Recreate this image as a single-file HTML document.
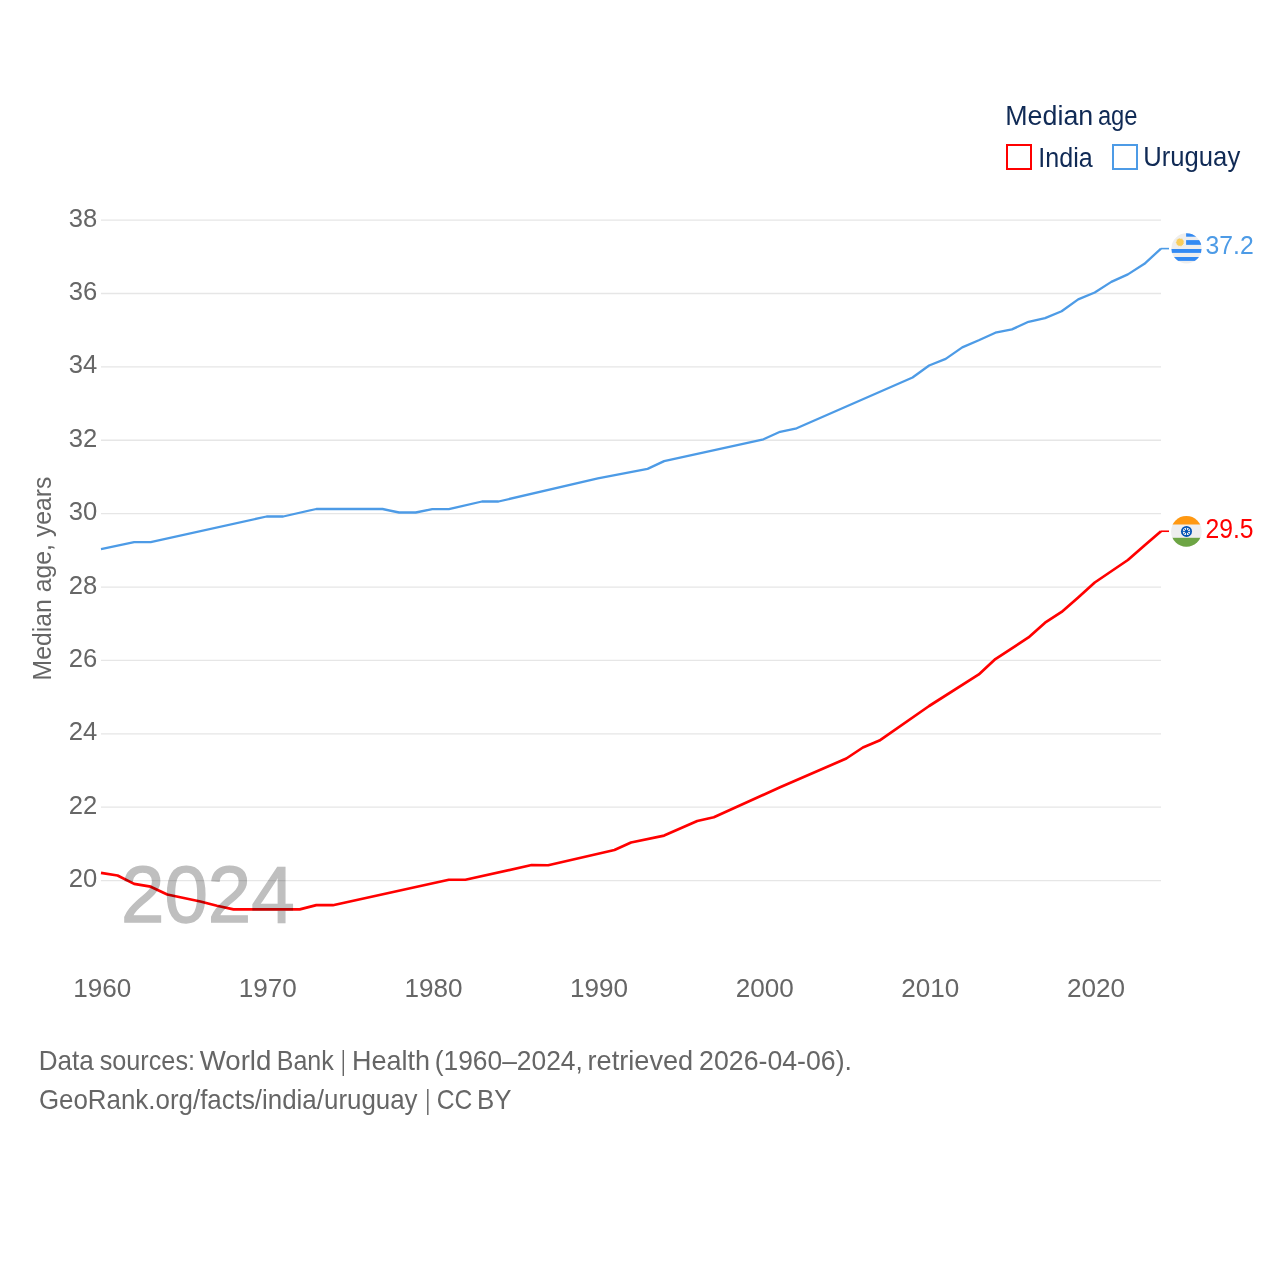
<!DOCTYPE html><html><head><meta charset="utf-8"><style>html,body{margin:0;padding:0;background:#fff;width:1280px;height:1280px;overflow:hidden}svg{display:block;will-change:transform;font-family:"Liberation Sans",sans-serif}</style></head><body>
<svg width="1280" height="1280" viewBox="0 0 1280 1280">
<rect width="1280" height="1280" fill="#fff"/>
<line x1="101.0" y1="220.10" x2="1161.0" y2="220.10" stroke="#e6e6e6" stroke-width="1.3"/>
<line x1="101.0" y1="293.49" x2="1161.0" y2="293.49" stroke="#e6e6e6" stroke-width="1.3"/>
<line x1="101.0" y1="366.88" x2="1161.0" y2="366.88" stroke="#e6e6e6" stroke-width="1.3"/>
<line x1="101.0" y1="440.27" x2="1161.0" y2="440.27" stroke="#e6e6e6" stroke-width="1.3"/>
<line x1="101.0" y1="513.66" x2="1161.0" y2="513.66" stroke="#e6e6e6" stroke-width="1.3"/>
<line x1="101.0" y1="587.04" x2="1161.0" y2="587.04" stroke="#e6e6e6" stroke-width="1.3"/>
<line x1="101.0" y1="660.43" x2="1161.0" y2="660.43" stroke="#e6e6e6" stroke-width="1.3"/>
<line x1="101.0" y1="733.82" x2="1161.0" y2="733.82" stroke="#e6e6e6" stroke-width="1.3"/>
<line x1="101.0" y1="807.21" x2="1161.0" y2="807.21" stroke="#e6e6e6" stroke-width="1.3"/>
<line x1="101.0" y1="880.60" x2="1161.0" y2="880.60" stroke="#e6e6e6" stroke-width="1.3"/>
<text x="68.80" y="226.60" font-size="26.16" textLength="28.51" lengthAdjust="spacingAndGlyphs" fill="#666666" >38</text>
<text x="68.80" y="299.99" font-size="26.16" textLength="28.51" lengthAdjust="spacingAndGlyphs" fill="#666666" >36</text>
<text x="68.80" y="373.38" font-size="26.16" textLength="28.51" lengthAdjust="spacingAndGlyphs" fill="#666666" >34</text>
<text x="68.80" y="446.77" font-size="26.16" textLength="28.51" lengthAdjust="spacingAndGlyphs" fill="#666666" >32</text>
<text x="68.80" y="520.16" font-size="26.16" textLength="28.51" lengthAdjust="spacingAndGlyphs" fill="#666666" >30</text>
<text x="68.80" y="593.54" font-size="26.16" textLength="28.51" lengthAdjust="spacingAndGlyphs" fill="#666666" >28</text>
<text x="68.80" y="666.93" font-size="26.16" textLength="28.51" lengthAdjust="spacingAndGlyphs" fill="#666666" >26</text>
<text x="68.80" y="740.32" font-size="26.16" textLength="28.51" lengthAdjust="spacingAndGlyphs" fill="#666666" >24</text>
<text x="68.80" y="813.71" font-size="26.16" textLength="28.51" lengthAdjust="spacingAndGlyphs" fill="#666666" >22</text>
<text x="68.80" y="887.10" font-size="26.16" textLength="28.51" lengthAdjust="spacingAndGlyphs" fill="#666666" >20</text>
<text x="73.15" y="996.62" font-size="26.45" textLength="58.09" lengthAdjust="spacingAndGlyphs" fill="#666666" >1960</text>
<text x="238.78" y="996.62" font-size="26.45" textLength="58.09" lengthAdjust="spacingAndGlyphs" fill="#666666" >1970</text>
<text x="404.40" y="996.62" font-size="26.45" textLength="58.09" lengthAdjust="spacingAndGlyphs" fill="#666666" >1980</text>
<text x="570.02" y="996.62" font-size="26.45" textLength="58.09" lengthAdjust="spacingAndGlyphs" fill="#666666" >1990</text>
<text x="735.65" y="996.62" font-size="26.45" textLength="58.09" lengthAdjust="spacingAndGlyphs" fill="#666666" >2000</text>
<text x="901.27" y="996.62" font-size="26.45" textLength="58.09" lengthAdjust="spacingAndGlyphs" fill="#666666" >2010</text>
<text x="1066.90" y="996.62" font-size="26.45" textLength="58.09" lengthAdjust="spacingAndGlyphs" fill="#666666" >2020</text>
<g transform="translate(50.9,678.8) rotate(-90)"><text x="-1.60" y="0.00" font-size="26.16" textLength="203.90" lengthAdjust="spacingAndGlyphs" fill="#666666" >Median age, years</text></g>
<polyline points="101.00,549.10 134.12,542.10 150.69,542.10 266.62,516.50 283.19,516.50 316.31,509.00 382.56,509.00 399.12,512.50 415.69,512.50 432.25,509.20 448.81,509.20 481.94,501.50 498.50,501.50 597.88,478.40 647.56,468.90 664.12,461.10 763.50,439.30 780.06,431.80 796.62,428.30 912.56,377.50 929.12,365.50 945.69,358.90 962.25,347.40 978.81,340.30 995.38,332.70 1011.94,329.40 1028.50,321.80 1045.06,318.10 1061.62,311.30 1078.19,299.40 1094.75,292.50 1111.31,281.90 1127.88,274.40 1144.44,263.80 1161.00,248.60" fill="none" stroke="#4d9be6" stroke-width="2.3" stroke-linejoin="round" stroke-linecap="butt"/>
<polyline points="101.00,872.90 117.56,875.50 134.12,883.90 150.69,886.70 167.25,894.50 183.81,898.00 200.38,901.50 216.94,905.70 233.50,909.40 299.75,909.40 316.31,905.10 332.88,905.20 448.81,879.75 465.38,879.75 531.62,865.00 548.19,865.25 614.44,850.00 631.00,842.50 664.12,835.60 697.25,821.00 713.81,817.25 780.06,787.30 846.31,758.50 862.88,747.50 879.44,740.60 929.12,706.00 978.81,674.40 995.38,659.10 1028.50,637.40 1045.06,622.70 1061.62,611.90 1078.19,597.50 1094.75,582.50 1111.31,571.25 1127.88,560.00 1144.44,545.60 1161.00,531.25" fill="none" stroke="#ff0000" stroke-width="2.7" stroke-linejoin="round" stroke-linecap="butt"/>
<line x1="1161" y1="248.6" x2="1169" y2="248.6" stroke="#4d9be6" stroke-width="1.6"/>
<line x1="1161" y1="531.25" x2="1169" y2="531.25" stroke="#ff0000" stroke-width="1.6"/>
<text x="121.00" y="922.40" font-size="79.36" textLength="173.57" lengthAdjust="spacingAndGlyphs" fill="#bfbfbf" stroke="#bfbfbf" stroke-width="1.4" style="mix-blend-mode:multiply">2024</text>
<defs><clipPath id="cu"><circle cx="1186.5" cy="248.4" r="15.1"/></clipPath><clipPath id="ci"><circle cx="1186.4" cy="531.4" r="15.3"/></clipPath></defs>
<g clip-path="url(#cu)"><rect x="1170" y="232" width="34" height="34" fill="#eeeeee"/><rect x="1186.1" y="232" width="18" height="4.7" fill="#338af3"/><rect x="1186.1" y="240.1" width="18" height="4.75" fill="#338af3"/><rect x="1170" y="249" width="34" height="3.9" fill="#338af3"/><rect x="1170" y="257" width="34" height="3.9" fill="#338af3"/><polygon points="1184.60,242.20 1182.94,242.79 1184.27,243.92 1182.51,243.84 1183.31,245.40 1181.71,244.66 1181.87,246.40 1180.66,245.13 1180.16,246.80 1179.52,245.16 1178.43,246.52 1178.44,244.76 1176.92,245.62 1177.60,243.99 1175.87,244.22 1177.10,242.96 1175.41,242.52 1177.02,241.82 1175.63,240.78 1177.38,240.73 1176.48,239.24 1178.12,239.86 1177.84,238.14 1179.14,239.33 1179.52,237.63 1180.27,239.21 1181.27,237.78 1181.37,239.53 1182.83,238.58 1182.27,240.24 1183.98,239.90 1182.84,241.24 1184.56,241.56 1183.00,242.37" fill="#f9cd5a"/><circle cx="1180" cy="242.2" r="3.3" fill="#f9cd5a"/></g>
<g clip-path="url(#ci)"><rect x="1170" y="515" width="34" height="34" fill="#eeeeee"/><rect x="1170" y="515" width="34" height="9.5" fill="#ff9811"/><rect x="1170" y="537.8" width="34" height="12" fill="#6da544"/><circle cx="1186.5" cy="531.4" r="5.5" fill="#0052b4"/><circle cx="1186.5" cy="531.4" r="3.7" fill="#eeeeee"/><line x1="1190.30" y1="531.40" x2="1182.70" y2="531.40" stroke="#0052b4" stroke-width="0.9"/><line x1="1189.19" y1="534.09" x2="1183.81" y2="528.71" stroke="#0052b4" stroke-width="0.9"/><line x1="1186.50" y1="535.20" x2="1186.50" y2="527.60" stroke="#0052b4" stroke-width="0.9"/><line x1="1183.81" y1="534.09" x2="1189.19" y2="528.71" stroke="#0052b4" stroke-width="0.9"/><circle cx="1186.5" cy="531.4" r="1.3" fill="#0052b4"/></g>
<text x="1205.50" y="253.90" font-size="26.45" textLength="48.21" lengthAdjust="spacingAndGlyphs" fill="#4d9be6" >37.2</text>
<text x="1205.50" y="538.40" font-size="27.18" textLength="48.01" lengthAdjust="spacingAndGlyphs" fill="#ff0000" >29.5</text>
<text x="1005.30" y="124.50" font-size="27.76" textLength="87.89" lengthAdjust="spacingAndGlyphs" fill="#102a55" >Median</text>
<text x="1097.90" y="124.50" font-size="27.76" textLength="39.71" lengthAdjust="spacingAndGlyphs" fill="#102a55" >age</text>
<rect x="1007" y="145" width="24" height="24" fill="none" stroke="#ff0000" stroke-width="2"/>
<text x="1038.30" y="167.10" font-size="27.62" textLength="54.39" lengthAdjust="spacingAndGlyphs" fill="#102a55" >India</text>
<rect x="1113" y="145" width="24" height="24" fill="none" stroke="#4d9be6" stroke-width="2"/>
<text x="1143.30" y="166.20" font-size="28.05" textLength="96.90" lengthAdjust="spacingAndGlyphs" fill="#102a55" >Uruguay</text>
<text x="38.70" y="1069.50" font-size="27.33" textLength="55.08" lengthAdjust="spacingAndGlyphs" fill="#666666" >Data</text>
<text x="99.70" y="1069.50" font-size="27.33" textLength="95.31" lengthAdjust="spacingAndGlyphs" fill="#666666" >sources:</text>
<text x="199.70" y="1069.50" font-size="27.33" textLength="71.71" lengthAdjust="spacingAndGlyphs" fill="#666666" >World</text>
<text x="276.70" y="1069.50" font-size="27.33" textLength="57.06" lengthAdjust="spacingAndGlyphs" fill="#666666" >Bank</text>
<text x="341.00" y="1069.50" font-size="27.33" textLength="4.60" lengthAdjust="spacingAndGlyphs" fill="#666666" >|</text>
<text x="351.90" y="1069.50" font-size="27.33" textLength="78.09" lengthAdjust="spacingAndGlyphs" fill="#666666" >Health</text>
<text x="434.70" y="1069.50" font-size="27.33" textLength="148.11" lengthAdjust="spacingAndGlyphs" fill="#666666" >(1960–2024,</text>
<text x="587.50" y="1069.50" font-size="27.33" textLength="105.69" lengthAdjust="spacingAndGlyphs" fill="#666666" >retrieved</text>
<text x="699.10" y="1069.50" font-size="27.33" textLength="152.90" lengthAdjust="spacingAndGlyphs" fill="#666666" >2026-04-06).</text>
<text x="38.90" y="1108.75" font-size="27.25" textLength="378.69" lengthAdjust="spacingAndGlyphs" fill="#666666" >GeoRank.org/facts/india/uruguay</text>
<text x="425.40" y="1108.75" font-size="27.25" textLength="4.60" lengthAdjust="spacingAndGlyphs" fill="#666666" >|</text>
<text x="436.70" y="1108.75" font-size="27.25" textLength="35.51" lengthAdjust="spacingAndGlyphs" fill="#666666" >CC</text>
<text x="476.90" y="1108.75" font-size="27.25" textLength="34.50" lengthAdjust="spacingAndGlyphs" fill="#666666" >BY</text>
</svg></body></html>
